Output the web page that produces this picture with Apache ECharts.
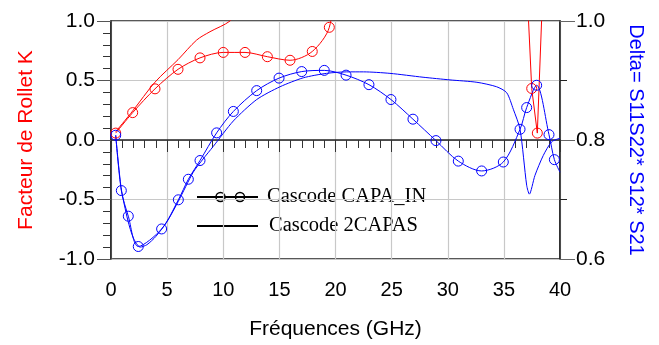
<!DOCTYPE html>
<html><head><meta charset="utf-8">
<script src="https://cdn.jsdelivr.net/npm/echarts@6/dist/echarts.min.js"></script>
<style>html,body{margin:0;padding:0;background:#fff;overflow:hidden}#c{width:659px;height:345px}</style>
</head><body><div id="c"></div>
<script>
// Frequency (GHz) / value pairs
const kCapaIn = [[0.42,0.058],[1.93,0.23],[3.92,0.43],[5.97,0.594],[7.93,0.69],[10.0,0.736],[11.94,0.736],[13.93,0.70],[15.95,0.67],[17.93,0.744],[19.45,0.947],[20.2,1.5]];
const kCapaInTail = [[36.8,1.8],[37.48,0.433],[37.98,0.058],[38.6,1.6]];
const k2Capas = [[0.42,0.07],[1.93,0.244],[3.92,0.486],[5.97,0.675],[7.63,0.84],[8.82,0.91],[10.6,1.0],[12,1.15]];
const dCapaIn = [[0.42,0.808],[0.92,0.715],[1.54,0.672],[2.43,0.621],[4.51,0.6505],[6.0,0.6995],[6.89,0.734],[7.93,0.7655],[9.41,0.812],[10.9,0.848],[12.98,0.883],[14.97,0.904],[16.99,0.915],[19.0,0.917],[20.94,0.909],[22.98,0.893],[24.94,0.868],[26.9,0.835],[28.95,0.799],[30.94,0.7645],[33.02,0.748],[34.95,0.763],[36.44,0.818],[37.03,0.8545],[37.92,0.892],[39.02,0.809],[39.5,0.767],[40,0.746]];
const d2Capas = [[0.42,0.808],[0.9,0.72],[1.5,0.665],[2.0,0.635],[2.6,0.62],[3.2,0.624],[4.0,0.638],[5.0,0.663],[6.0,0.697],[7.33,0.746],[8.2,0.768],[9.1,0.789],[10.9,0.832],[12.98,0.868],[15.06,0.8895],[17.13,0.9045],[19.2,0.912],[21,0.9145],[22.5,0.9145],[24.85,0.912],[27.8,0.9055],[30.2,0.901],[32.6,0.897],[34.35,0.8895],[35.25,0.8795],[35.84,0.8517],[36.44,0.818],[37.03,0.724],[37.27,0.709],[37.77,0.7405],[38.51,0.774],[39.26,0.797],[40,0.803]];
const legendNames = ['Cascode CAPA_IN','Cascode 2CAPAS'];
const xTitle = 'Fréquences (GHz)';
const yLeftTitle = 'Facteur de Rollet K';
const yRightTitle = 'Delta= S11S22* S12* S21';

const RED = '#ff0000', BLUE = '#0000ff';
const FONT = 'Liberation Sans, Arial, sans-serif';
const markOut = (arr, lo, hi, lastNone) => arr.map((p, i) => {
  const out = p[1] > hi || p[1] < lo || (lastNone && i === arr.length - 1);
  return out ? {value: p, symbol: 'none'} : {value: p};
});
const mk = c => ({color: 'rgba(0,0,0,0)', borderColor: c, borderWidth: 1});

const chart = echarts.init(document.getElementById('c'), null, {renderer: 'canvas', width: 659, height: 345});
chart.setOption({
  animation: false,
  grid: {left: 111, top: 21, width: 449, height: 240, show: true, borderColor: '#222', borderWidth: 1.5, backgroundColor: 'transparent'},
  xAxis: {
    type: 'value', min: 0, max: 40, interval: 5,
    name: xTitle, nameLocation: 'middle', nameGap: 60,
    nameTextStyle: {fontFamily: FONT, fontSize: 21, color: '#000'},
    axisLine: {lineStyle: {color: '#222', width: 1.5}},
    axisTick: {length: 12, lineStyle: {color: '#333'}},
    minorTick: {show: true, splitNumber: 5, length: 8, lineStyle: {color: '#333'}},
    axisLabel: {fontFamily: FONT, fontSize: 20, color: '#000', margin: 21},
    splitLine: {show: true, lineStyle: {color: '#c8c8c8', width: 1.2}}
  },
  yAxis: [{
    type: 'value', min: -1, max: 1, interval: 0.5, position: 'left',
    name: yLeftTitle, nameLocation: 'middle', nameGap: 74, nameRotate: 90,
    nameTextStyle: {fontFamily: FONT, fontSize: 21, color: RED},
    axisLine: {show: true, lineStyle: {color: '#222', width: 1.5}},
    axisTick: {length: 14, lineStyle: {color: '#555'}},
    minorTick: {show: true, splitNumber: 5, length: 8, lineStyle: {color: '#333'}},
    axisLabel: {fontFamily: FONT, fontSize: 21, color: '#000', margin: 16, formatter: v => v.toFixed(1)},
    splitLine: {show: true, lineStyle: {color: '#c8c8c8', width: 1.2}}
  }, {
    type: 'value', min: 0.6, max: 1.0, interval: 0.2, position: 'right',
    name: yRightTitle, nameLocation: 'middle', nameGap: 66, nameRotate: -90,
    nameTextStyle: {fontFamily: FONT, fontSize: 20, color: BLUE},
    axisLine: {show: true, lineStyle: {color: '#222', width: 1.5}},
    axisTick: {length: 15, lineStyle: {color: '#666'}},
    minorTick: {show: true, splitNumber: 2, length: 7, lineStyle: {color: '#222'}},
    axisLabel: {fontFamily: FONT, fontSize: 21, color: '#000', margin: 16, formatter: v => v.toFixed(1)},
    splitLine: {show: false}
  }],
  series: [
    {type: 'line', yAxisIndex: 0, data: markOut(kCapaIn, -1, 1, false), smooth: 0.3, clip: true,
     symbol: 'circle', symbolSize: 10, lineStyle: {color: RED, width: 1}, itemStyle: mk(RED)},
    {type: 'line', yAxisIndex: 0, data: markOut(kCapaInTail, -1, 1, false), smooth: false, clip: true,
     symbol: 'circle', symbolSize: 10, lineStyle: {color: RED, width: 1}, itemStyle: mk(RED)},
    {type: 'line', yAxisIndex: 0, data: k2Capas, smooth: 0.3, clip: true, symbol: 'none',
     lineStyle: {color: RED, width: 1}},
    {type: 'line', yAxisIndex: 1, data: markOut(dCapaIn, 0.6, 1, true), smooth: 0.3, clip: true,
     symbol: 'circle', symbolSize: 10, lineStyle: {color: BLUE, width: 1}, itemStyle: mk(BLUE)},
    {type: 'line', yAxisIndex: 1, data: d2Capas, smooth: 0.25, clip: true, symbol: 'none',
     lineStyle: {color: BLUE, width: 1}}
  ],
  graphic: [
    {type: 'line', shape: {x1: 197, y1: 197, x2: 258, y2: 197}, style: {stroke: '#000', lineWidth: 2}},
    {type: 'circle', shape: {cx: 220.5, cy: 197, r: 4.5}, style: {stroke: '#000', fill: 'rgba(0,0,0,0)', lineWidth: 1.5}},
    {type: 'circle', shape: {cx: 240, cy: 197, r: 4.5}, style: {stroke: '#000', fill: 'rgba(0,0,0,0)', lineWidth: 1.5}},
    {type: 'text', x: 267, y: 197, style: {text: legendNames[0], font: '20.5px "Liberation Serif", "Times New Roman", serif', fill: '#000', textVerticalAlign: 'middle'}},
    {type: 'line', shape: {x1: 197, y1: 226, x2: 258, y2: 226}, style: {stroke: '#000', lineWidth: 2}},
    {type: 'text', x: 269, y: 226, style: {text: legendNames[1], font: '20.5px "Liberation Serif", "Times New Roman", serif', fill: '#000', textVerticalAlign: 'middle'}}
  ]
});
</script></body></html>
